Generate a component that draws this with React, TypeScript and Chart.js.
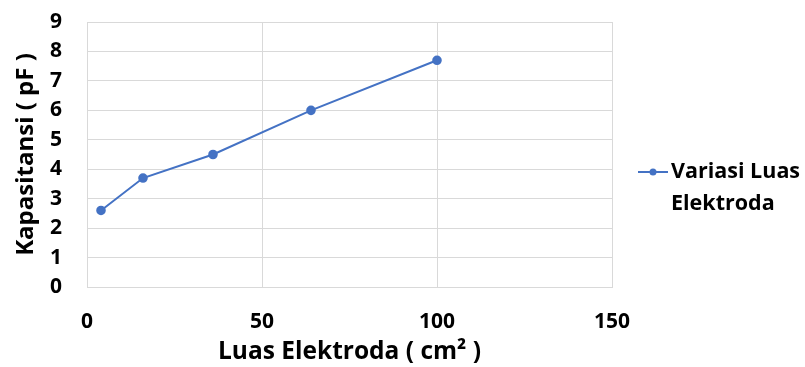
import React, { useEffect, useRef } from "react";
import { Chart, registerables } from "chart.js";

Chart.register(...registerables);

// Electrode area (cm²) and measured capacitance (pF)
const areas: number[] = [4, 16, 36, 64, 100];
const capacitance: number[] = [2.6, 3.7, 4.5, 6.0, 7.7];
const seriesName = "Variasi Luas Elektroda";
const legendLines: string[] = ["Variasi Luas", "Elektroda"];
const xTitle = "Luas Elektroda ( cm² )";
const yTitle = "Kapasitansi ( pF )";

const FONT = "'Open Sans', Lato, sans-serif";
const BLUE = "#4472C4";
const GRID = "#d9d9d9";

// Legend drawn to the right of the plot, with the series name on two lines
const sideLegend = {
  id: "sideLegend",
  afterDraw(chart: any) {
    const { ctx, chartArea } = chart;
    const x0 = chartArea.right + 26;
    const y0 = 172;
    ctx.save();
    ctx.strokeStyle = BLUE;
    ctx.lineWidth = 2;
    ctx.beginPath();
    ctx.moveTo(x0, y0);
    ctx.lineTo(x0 + 30, y0);
    ctx.stroke();
    ctx.fillStyle = BLUE;
    ctx.beginPath();
    ctx.arc(x0 + 15, y0, 3.5, 0, Math.PI * 2);
    ctx.fill();
    ctx.fillStyle = "#000";
    ctx.font = `bold 21.5px ${FONT}`;
    ctx.textBaseline = "middle";
    ctx.textAlign = "left";
    legendLines.forEach((line, i) => {
      ctx.fillText(line, x0 + 33, y0 + i * 32);
    });
    ctx.restore();
  },
};

export default function App() {
  const ref = useRef<HTMLCanvasElement | null>(null);

  useEffect(() => {
    if (!ref.current) return;
    const chart = new Chart(ref.current, {
      type: "line",
      data: {
        datasets: [
          {
            label: seriesName,
            data: areas.map((a, i) => ({ x: a, y: capacitance[i] })),
            borderColor: BLUE,
            backgroundColor: BLUE,
            borderWidth: 2,
            pointRadius: 3.8,
            pointBackgroundColor: BLUE,
            pointBorderColor: BLUE,
            tension: 0,
          },
        ],
      },
      options: {
        animation: false,
        responsive: false,
        layout: { padding: { top: 22, right: 193, left: 0, bottom: 0 } },
        plugins: { legend: { display: false }, tooltip: { enabled: false } },
        scales: {
          x: {
            type: "linear",
            min: 0,
            max: 150,
            ticks: {
              stepSize: 50,
              autoSkip: false,
              color: "#000",
              padding: 22,
              font: { family: FONT, size: 21, weight: "bold" },
            },
            grid: { color: GRID, drawTicks: false, lineWidth: 1 },
            border: { color: GRID },
            title: {
              display: true,
              text: xTitle,
              color: "#000",
              font: { family: FONT, size: 24.5, weight: "bold", lineHeight: 1.2 },
              padding: { top: 0, bottom: 0 },
            },
            afterFit(scale: any) {
              scale.height = 80;
            },
          },
          y: {
            min: 0,
            max: 9,
            ticks: {
              stepSize: 1,
              autoSkip: false,
              color: "#000",
              padding: 25,
              font: { family: FONT, size: 21, weight: "bold" },
            },
            grid: { color: GRID, drawTicks: false, lineWidth: 1 },
            border: { color: GRID },
            title: {
              display: true,
              text: yTitle,
              color: "#000",
              font: { family: FONT, size: 24, weight: "bold", lineHeight: 1.2 },
              padding: { top: 12, bottom: 0 },
            },
            afterFit(scale: any) {
              scale.width = 87;
              // keep the label gap from pushing the plot top down
              scale.paddingTop = 12;
              scale.paddingBottom = 12;
            },
          },
        },
      },
      plugins: [sideLegend],
    });
    return () => chart.destroy();
  }, []);

  return (
    <div style={{ position: "fixed", left: 0, top: 0, width: 805, height: 367, background: "#fff" }}>
      <canvas ref={ref} width={805} height={367} />
    </div>
  );
}
